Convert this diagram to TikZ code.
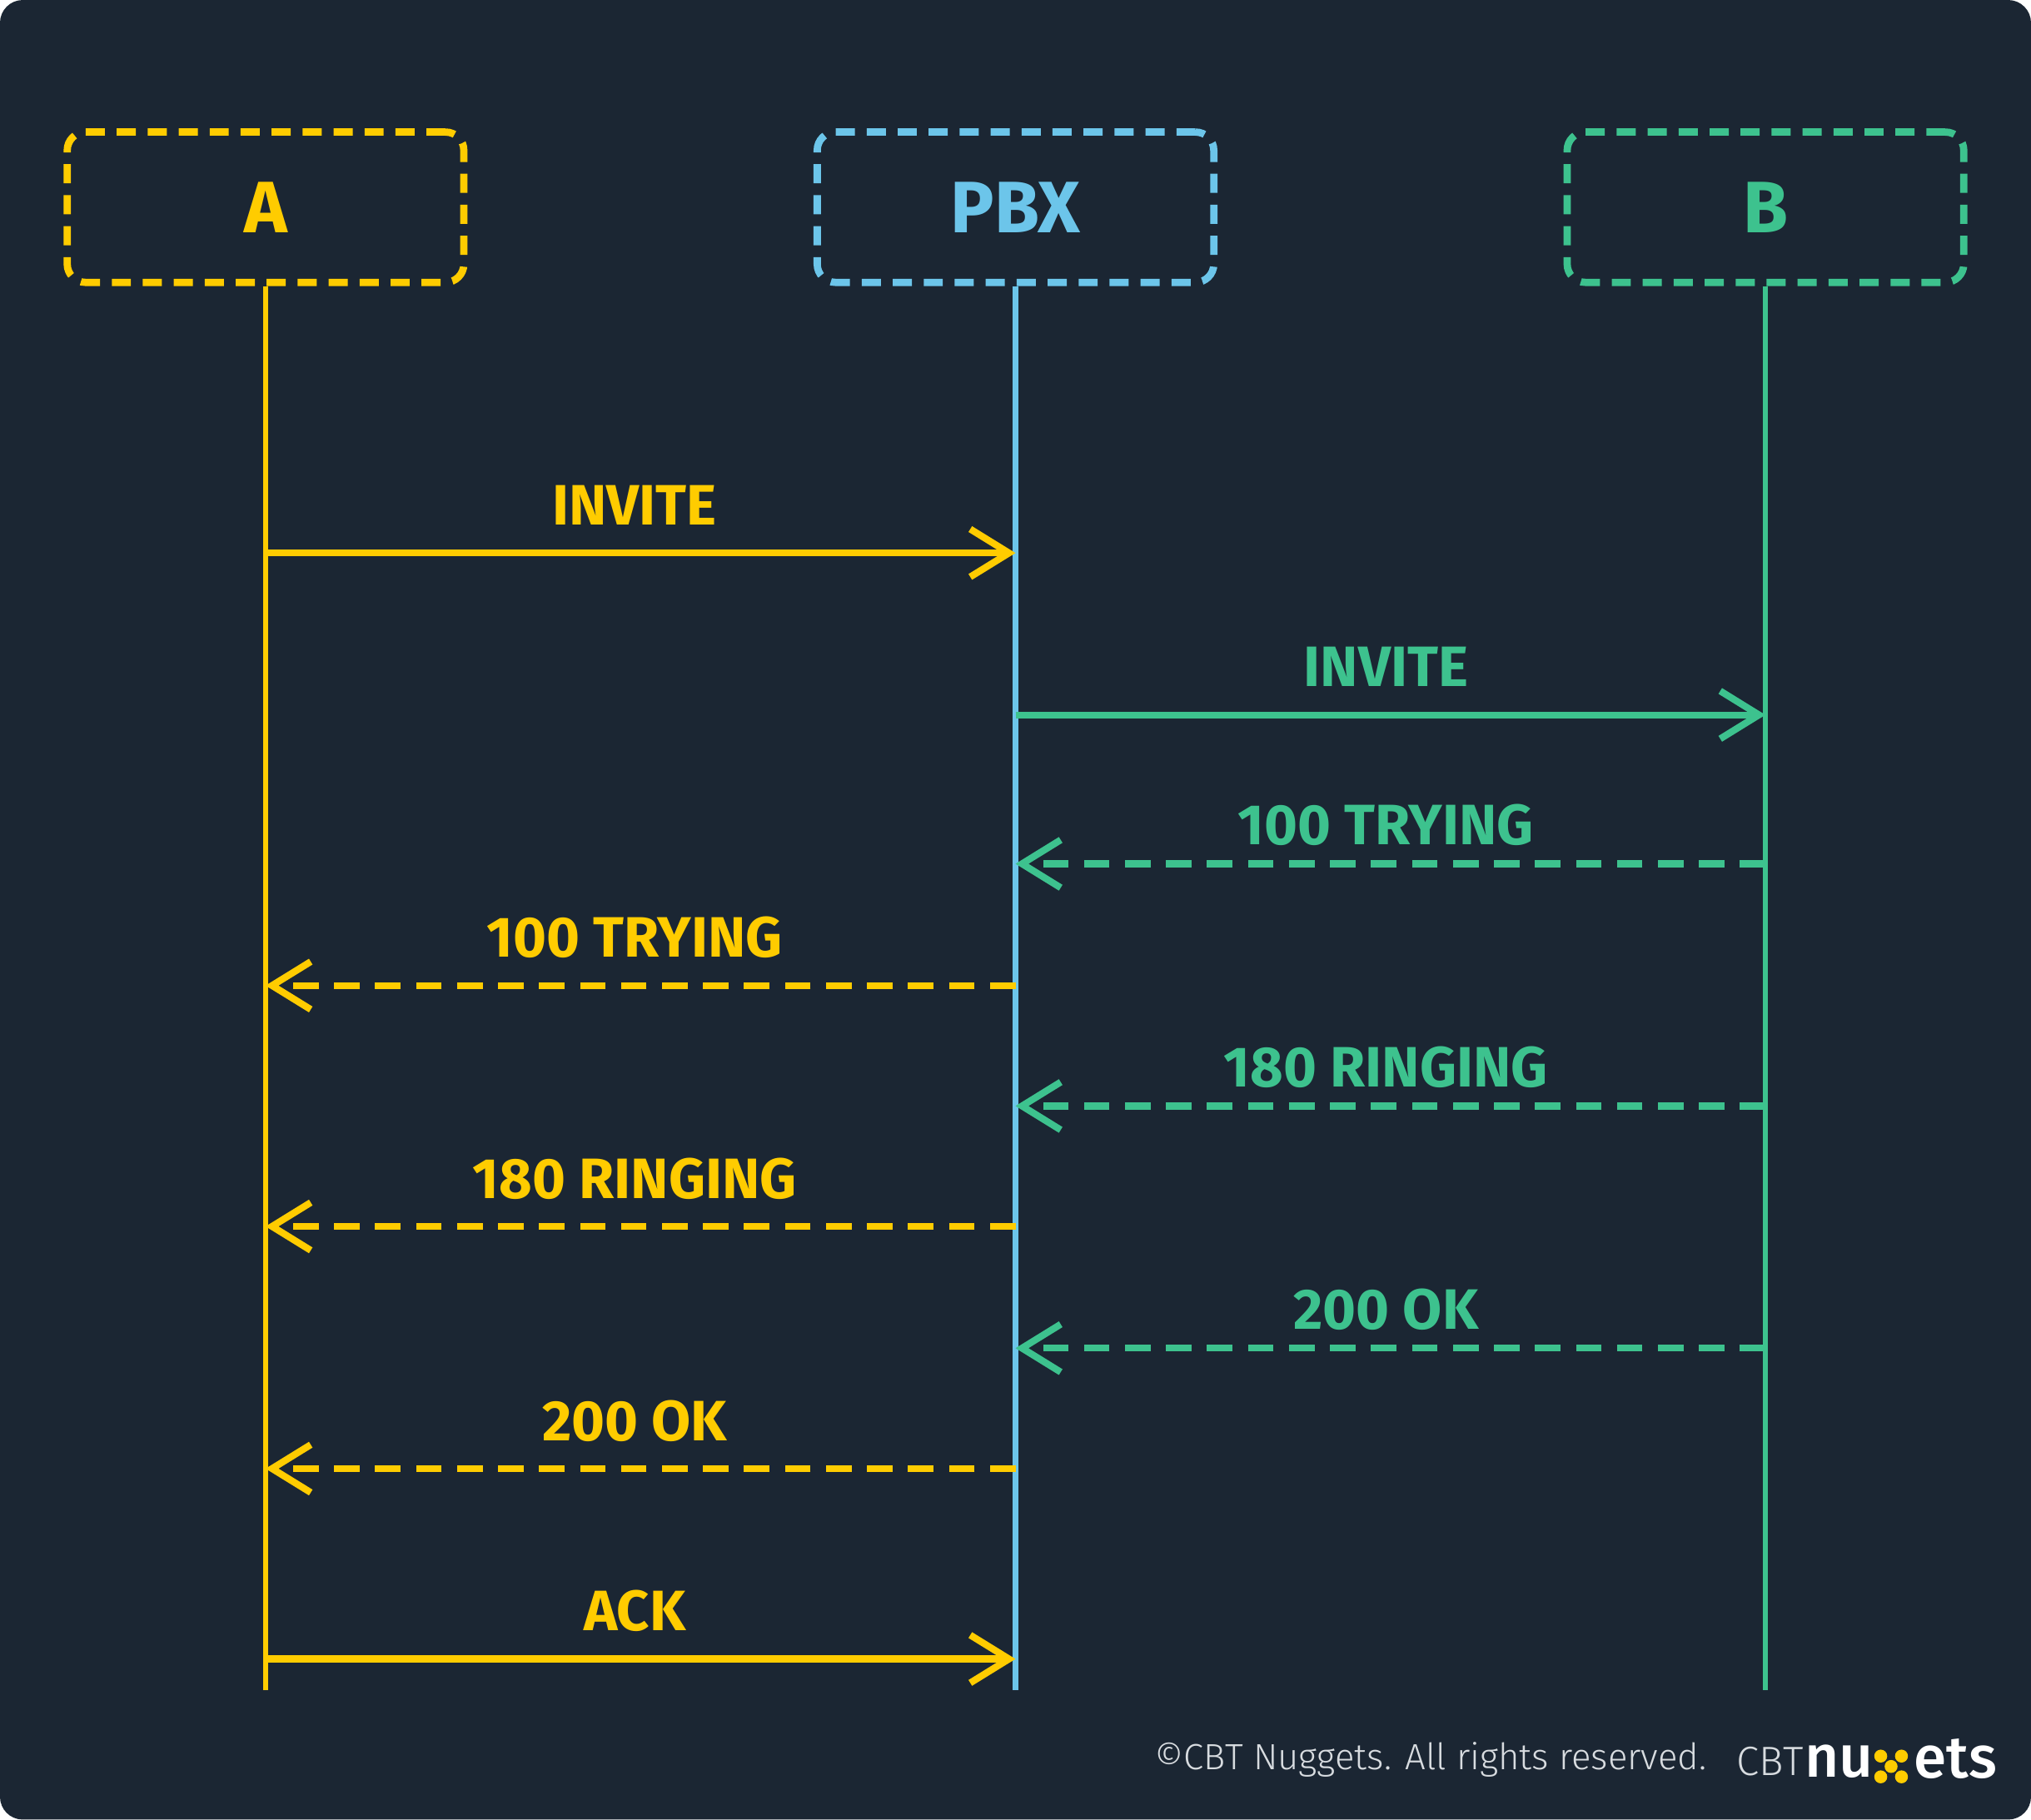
\documentclass[tikz,border=0pt]{standalone}
\usepackage{fontspec}
\setmainfont{Fira Sans}
\usetikzlibrary{arrows.meta}
\definecolor{bg}{HTML}{1B2633}
\definecolor{ay}{HTML}{FFCC00}
\definecolor{pb}{HTML}{6CC5EA}
\definecolor{bg2}{HTML}{3DC28E}
\definecolor{ft}{HTML}{D8DCE0}
\begin{document}
\begin{tikzpicture}[x=0.01cm,y=-0.01cm,
  actor/.style={draw,dashed,dash pattern=on 4.2pt off 2.6pt,line width=1.6pt,rounded corners=4pt,minimum width=3.06cm,minimum height=1.16cm,font=\fontsize{16}{19}\selectfont\bfseries},
  life/.style={line width=1.1pt},
  msg/.style={line width=1.5pt,-{Straight Barb[length=8.5pt,width=10.5pt,line width=1.5pt]}},
  reply/.style={msg,dashed,dash pattern=on 5.6pt off 3.4pt},
  lab/.style={font=\fontsize{12.5}{15}\selectfont\bfseries}]
\useasboundingbox (0,0) rectangle (1568,1405);
\fill[bg,rounded corners=5pt] (0,0) rectangle (1568,1405);
\node[actor,ay] (A) at (205,160) {\textcolor{ay}{A}};
\node[actor,pb] (P) at (784,160) {\textcolor{pb}{PBX}};
\node[actor,bg2] (B) at (1363,160) {\textcolor{bg2}{B}};
\coordinate (Ae) at (205,1305);
\coordinate (Pe) at (784,1305);
\coordinate (Be) at (1363,1305);
\draw[life,ay] (A.south) -- (Ae);
\draw[life,pb] (P.south) -- (Pe);
\draw[life,bg2] (B.south) -- (Be);
\foreach \y/\t/\k in {427/INVITE/msg,1281/ACK/msg}{
  \coordinate (s) at (205,\y); \coordinate (e) at (784,\y);
  \draw[\k,ay] (s) -- (e);
  \node[lab,text=ay] at (490,\y-37) {\t};}
\foreach \y/\t in {761/100 TRYING,947/180 RINGING,1134/200 OK}{
  \coordinate (s) at (784,\y); \coordinate (e) at (205,\y);
  \draw[reply,ay] (s) -- (e);
  \node[lab,text=ay] at (490,\y-37) {\t};}
\coordinate (s) at (784,552); \coordinate (e) at (1363,552);
\draw[msg,bg2] (s) -- (e);
\node[lab,text=bg2] at (1070,515) {INVITE};
\foreach \y/\t in {667/100 TRYING,854/180 RINGING,1041/200 OK}{
  \coordinate (s) at (1363,\y); \coordinate (e) at (784,\y);
  \draw[reply,bg2] (s) -- (e);
  \node[lab,text=bg2] at (1070,\y-30) {\t};}
\node[anchor=east,text=ft,font=\fontsize{8}{10}\selectfont\fontspec{Fira Sans Light}] (fo) at (1330,1359) {©CBT Nuggets. All rights reserved.};
\node[anchor=west,text=ft,font=\fontsize{9}{10}\selectfont\fontspec{Fira Sans Light},inner sep=0pt] (c1) at (1340,1360) {CBT};
\node[anchor=west,text=white,font=\fontsize{13}{14}\selectfont\fontspec{Fira Sans Medium},inner sep=0pt] (c2) at (c1.east) {nu};
\foreach \dx/\dy in {0/-8,16/-8,8/0,0/8,16/8}{\fill[ay] (1452+\dx,1364+\dy) circle (5);}
\node[anchor=west,text=white,font=\fontsize{13}{14}\selectfont\fontspec{Fira Sans Medium},inner sep=0pt] (c3) at (1477,1358) {ets};
\end{tikzpicture}
\end{document}
